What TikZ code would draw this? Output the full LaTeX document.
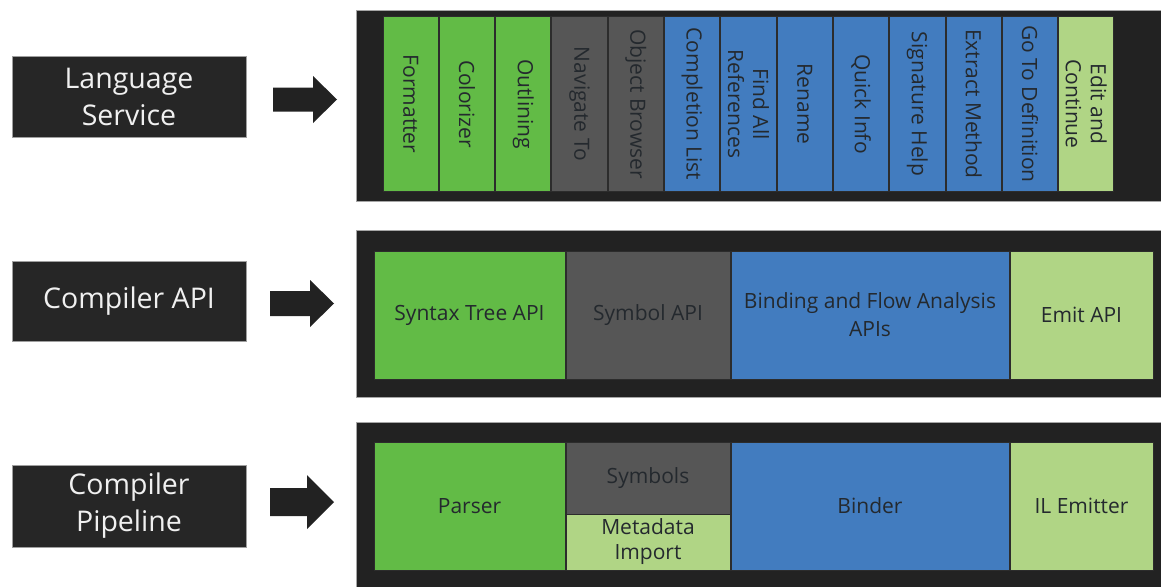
\documentclass[tikz,border=0pt]{standalone}
\usepackage{fontspec}
\setmainfont{Open Sans}
\definecolor{cont}{HTML}{222222}
\definecolor{lbl}{HTML}{262626}
\definecolor{cgreen}{HTML}{62BB46}
\definecolor{cgray}{HTML}{565656}
\definecolor{cblue}{HTML}{427CBF}
\definecolor{clight}{HTML}{B0D585}
\definecolor{cedge}{HTML}{2C2C2C}
\definecolor{ctext}{HTML}{24292E}
\tikzset{
  container/.style={fill=cont, draw=gray!70, line width=0.8pt},
  lblbox/.style={fill=lbl, draw=gray!75, line width=0.8pt, text=white!94!black,
    font=\fontsize{28.5}{37}\selectfont, align=center, inner sep=0pt},
  blk/.style={draw=cedge, line width=1pt, text=ctext, align=center, inner sep=0pt,
    font=\fontsize{21}{25}\selectfont},
  col/.style={blk, rotate=-90, minimum width=174pt, minimum height=55.3pt},
  bigarrow/.style={fill=cont},
}
\begin{document}
\begin{tikzpicture}[x=1pt,y=-1pt]
\useasboundingbox (0,0) rectangle (1161,586);
\fill[white] (0,0) rectangle (1161,586);
% containers
\node[container, anchor=north west, minimum width=820pt, minimum height=191pt] (c1) at (356,10) {};
\node[container, anchor=north west, minimum width=820pt, minimum height=167pt] (c2) at (356,230) {};
\node[container, anchor=north west, minimum width=820pt, minimum height=180pt] (c3) at (356,422) {};
% left labels
\node[lblbox, minimum width=234pt, minimum height=81pt] (ls) at (129,96.5) {Language\\Service};
\node[lblbox, minimum width=234pt, minimum height=80pt] (ca) at (129,301) {Compiler API};
\node[lblbox, minimum width=234pt, minimum height=82pt] (cp) at (129,506) {Compiler\\Pipeline};
% arrows
\coordinate (a1) at (273,99.5);
\fill[bigarrow] (a1) ++(0,-12) -- ++(40,0) -- ++(0,-11.5) -- ++(24,23.5) -- ++(-24,23.5) -- ++(0,-11.5) -- ++(-40,0) -- cycle;
\coordinate (a2) at (270,303.5);
\fill[bigarrow] (a2) ++(0,-12.5) -- ++(40,0) -- ++(0,-11) -- ++(24,23.5) -- ++(-24,23.5) -- ++(0,-11) -- ++(-40,0) -- cycle;
\coordinate (a3) at (270,502);
\fill[bigarrow] (a3) ++(0,-14) -- ++(37,0) -- ++(0,-13) -- ++(27,27) -- ++(-27,27) -- ++(0,-13) -- ++(-37,0) -- cycle;
% top row columns
\node[col, fill=cgreen] (t1) at (383+27.65+0*56.3,104) {Formatter};
\node[col, fill=cgreen] (t2) at (383+27.65+1*56.3,104) {Colorizer};
\node[col, fill=cgreen] (t3) at (383+27.65+2*56.3,104) {Outlining};
\node[col, fill=cgray] (t4) at (383+27.65+3*56.3,104) {Navigate To};
\node[col, fill=cgray] (t5) at (383+27.65+4*56.3,104) {Object Browser};
\node[col, fill=cblue] (t6) at (383+27.65+5*56.3,104) {Completion List};
\node[col, fill=cblue] (t7) at (383+27.65+6*56.3,104) {Find All\\References};
\node[col, fill=cblue] (t8) at (383+27.65+7*56.3,104) {Rename};
\node[col, fill=cblue] (t9) at (383+27.65+8*56.3,104) {Quick Info};
\node[col, fill=cblue] (t10) at (383+27.65+9*56.3,104) {Signature Help};
\node[col, fill=cblue] (t11) at (383+27.65+10*56.3,104) {Extract Method};
\node[col, fill=cblue] (t12) at (383+27.65+11*56.3,104) {Go To Definition};
\node[col, fill=clight] (t13) at (383+27.65+12*56.3,104) {Edit and\\Continue};
% middle row
\node[blk, fill=cgreen, minimum width=191pt, minimum height=128pt] (m1) at (469.5,315) {Syntax Tree API};
\node[blk, fill=cgray, minimum width=164pt, minimum height=128pt] (m2) at (648,315) {Symbol API};
\node[blk, fill=cblue, minimum width=278pt, minimum height=128pt, font=\fontsize{21}{28}\selectfont] (m3) at (870,315) {Binding and Flow Analysis\\APIs};
\node[blk, fill=clight, minimum width=143pt, minimum height=128pt] (m4) at (1081.5,315) {Emit API};
% bottom row
\node[blk, fill=cgreen, minimum width=191pt, minimum height=128pt] (b1) at (469.5,506) {Parser};
\node[blk, fill=cgray, minimum width=164pt, minimum height=72pt] (b2) at (648,478) {Symbols};
\node[blk, fill=clight, minimum width=164pt, minimum height=56pt] (b3) at (648,542) {Metadata\\Import};
\node[blk, fill=cblue, minimum width=278pt, minimum height=128pt] (b4) at (870,506) {Binder};
\node[blk, fill=clight, minimum width=143pt, minimum height=128pt] (b5) at (1081.5,506) {IL Emitter};
\end{tikzpicture}
\end{document}
